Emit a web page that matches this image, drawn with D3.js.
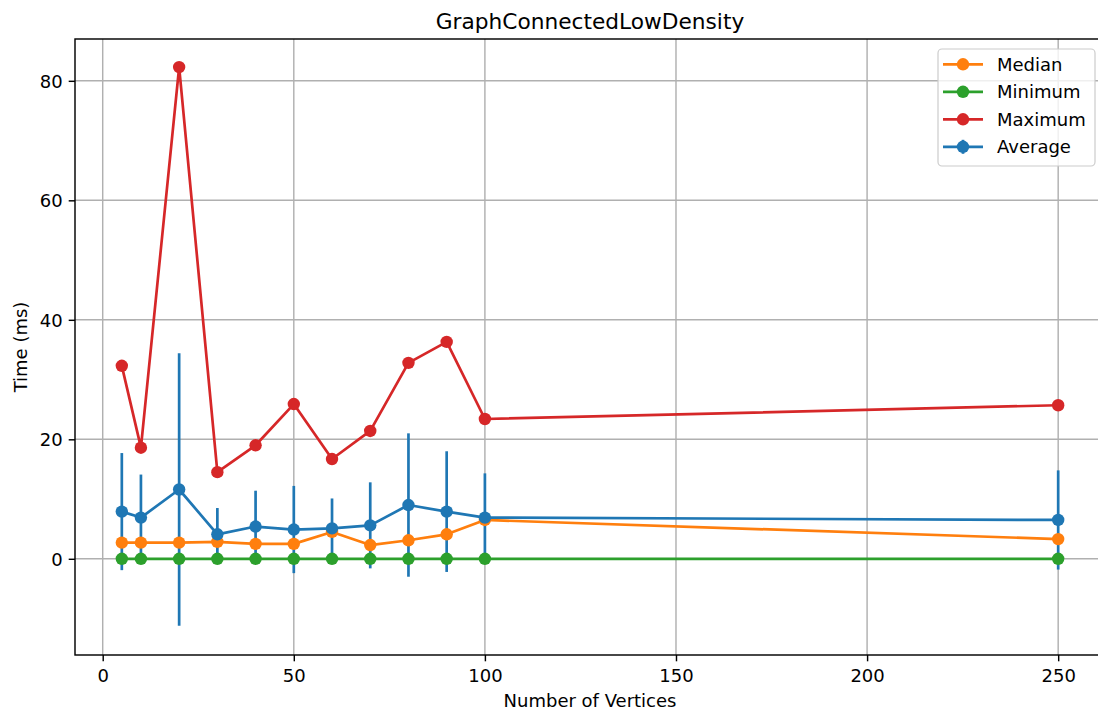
<!DOCTYPE html>
<html>
<head>
<meta charset="utf-8">
<script src="https://cdn.jsdelivr.net/npm/d3@7"></script>
<style>
  html, body { margin: 0; padding: 0; background: #fff; }
  svg { display: block; font-family: "DejaVu Sans", sans-serif; }
</style>
</head>
<body>
<svg id="chart" width="1098" height="713"></svg>
<script>
// Benchmark results: time in ms per graph size
const vertices   = [5, 10, 20, 30, 40, 50, 60, 70, 80, 90, 100, 250];
const medianMs   = [2.7, 2.7, 2.7, 2.85, 2.5, 2.5, 4.5, 2.3, 3.1, 4.1, 6.5, 3.3];
const minimumMs  = [0, 0, 0, 0, 0, 0, 0, 0, 0, 0, 0, 0];
const maximumMs  = [32.3, 18.6, 82.3, 14.5, 19.0, 25.9, 16.7, 21.4, 32.8, 36.3, 23.4, 25.7];
const averageMs  = [7.9, 6.9, 11.6, 4.1, 5.4, 4.9, 5.1, 5.6, 9.0, 7.9, 6.9, 6.5];
const averageStd = [9.8, 7.2, 22.8, 4.4, 6.0, 7.3, 5.0, 7.2, 12.0, 10.1, 7.4, 8.3];

const xTicks = [0, 50, 100, 150, 200, 250];
const yTicks = [0, 20, 40, 60, 80];

const titleText = "GraphConnectedLowDensity";
const xLabelText = "Number of Vertices";
const yLabelText = "Time (ms)";

const legendNames = ["Median", "Minimum", "Maximum", "Average"];

// tab10 colours
const C_BLUE = "#1f77b4", C_ORANGE = "#ff7f0e", C_GREEN = "#2ca02c", C_RED = "#d62728";

const svg = d3.select("#chart");
const plot = { left: 75, top: 39, right: 1105, bottom: 655 };

const x = d3.scaleLinear().domain([-7.25, 262.25]).range([plot.left, plot.right]);
const y = d3.scaleLinear().domain([-16.1, 87.0]).range([plot.bottom, plot.top]);

const LW = 2.7, MR = 6.2, FS = 18;

svg.append("defs").append("clipPath").attr("id", "plotClip")
  .append("rect")
  .attr("x", plot.left).attr("y", plot.top)
  .attr("width", plot.right - plot.left).attr("height", plot.bottom - plot.top);

// grid
const grid = svg.append("g").attr("stroke", "#b0b0b0").attr("stroke-width", 1.44);
grid.selectAll(".gx").data(xTicks).join("line")
  .attr("x1", d => x(d)).attr("x2", d => x(d))
  .attr("y1", plot.top).attr("y2", plot.bottom);
grid.selectAll(".gy").data(yTicks).join("line")
  .attr("x1", plot.left).attr("x2", plot.right)
  .attr("y1", d => y(d)).attr("y2", d => y(d));

const marks = svg.append("g").attr("clip-path", "url(#plotClip)");
const line = d3.line().x(d => x(d[0])).y(d => y(d[1]));

function series(values, color) {
  const pts = vertices.map((v, i) => [v, values[i]]);
  const g = marks.append("g");
  g.append("path").datum(pts).attr("d", line)
    .attr("fill", "none").attr("stroke", color)
    .attr("stroke-width", LW).attr("stroke-linejoin", "round").attr("stroke-linecap", "butt");
  g.selectAll("circle").data(pts).join("circle")
    .attr("cx", d => x(d[0])).attr("cy", d => y(d[1])).attr("r", MR)
    .attr("fill", color);
  return g;
}

// std error bars of the average sit beneath the other series
const errG = marks.append("g");
errG.selectAll("line").data(vertices).join("line")
  .attr("x1", d => x(d)).attr("x2", d => x(d))
  .attr("y1", (d, i) => y(averageMs[i] - averageStd[i]))
  .attr("y2", (d, i) => y(averageMs[i] + averageStd[i]))
  .attr("stroke", C_BLUE).attr("stroke-width", LW);

series(medianMs, C_ORANGE);
series(minimumMs, C_GREEN);
series(maximumMs, C_RED);
series(averageMs, C_BLUE);

// spines
const spine = svg.append("g").attr("stroke", "#000").attr("stroke-width", 1.44).attr("fill", "none");
spine.append("rect")
  .attr("x", plot.left).attr("y", plot.top)
  .attr("width", plot.right - plot.left).attr("height", plot.bottom - plot.top);

// axes
const xAxis = d3.axisBottom(x).tickValues(xTicks).tickSize(6.3).tickPadding(4).tickFormat(d3.format("d"));
const yAxis = d3.axisLeft(y).tickValues(yTicks).tickSize(6.3).tickPadding(6).tickFormat(d3.format("d"));

const gx = svg.append("g").attr("transform", `translate(0,${plot.bottom})`).call(xAxis);
const gy = svg.append("g").attr("transform", `translate(${plot.left},0)`).call(yAxis);
[gx, gy].forEach(g => {
  g.select(".domain").remove();
  g.selectAll(".tick line").attr("stroke", "#000").attr("stroke-width", 1.44);
  g.selectAll(".tick text").attr("fill", "#000").attr("font-size", FS)
    .attr("font-family", "DejaVu Sans, sans-serif");
});
gx.selectAll(".tick text").attr("dy", null).attr("y", 27);
gy.selectAll(".tick text").attr("dy", "0.36em");

// title and labels
svg.append("text").attr("x", (plot.left + plot.right) / 2).attr("y", 28.5)
  .attr("text-anchor", "middle").attr("font-size", 21.7).attr("fill", "#000").text(titleText);
svg.append("text").attr("x", (plot.left + plot.right) / 2).attr("y", 706.5)
  .attr("text-anchor", "middle").attr("font-size", FS).attr("fill", "#000").text(xLabelText);
svg.append("text")
  .attr("transform", `translate(27,${(plot.top + plot.bottom) / 2}) rotate(-90)`)
  .attr("text-anchor", "middle").attr("font-size", FS).attr("fill", "#000").text(yLabelText);

// legend
const legend = svg.append("g");
legend.append("rect")
  .attr("x", 938).attr("y", 49).attr("width", 157).attr("height", 117)
  .attr("rx", 4).attr("ry", 4)
  .attr("fill", "#fff").attr("fill-opacity", 0.8)
  .attr("stroke", "#cccccc").attr("stroke-width", 1.2);
const legendColors = [C_ORANGE, C_GREEN, C_RED, C_BLUE];
legendNames.forEach((name, i) => {
  const cy = 64.3 + i * 27.5;
  const c = legendColors[i];
  legend.append("line").attr("x1", 943).attr("x2", 983).attr("y1", cy).attr("y2", cy)
    .attr("stroke", c).attr("stroke-width", LW);
  if (name === "Average") {
    legend.append("line").attr("x1", 963).attr("x2", 963).attr("y1", cy - 7).attr("y2", cy + 7)
      .attr("stroke", c).attr("stroke-width", LW);
  }
  legend.append("circle").attr("cx", 963).attr("cy", cy).attr("r", MR).attr("fill", c);
  legend.append("text").attr("x", 997).attr("y", cy).attr("dy", "0.36em")
    .attr("font-size", FS).attr("fill", "#000").text(name);
});
</script>
</body>
</html>
